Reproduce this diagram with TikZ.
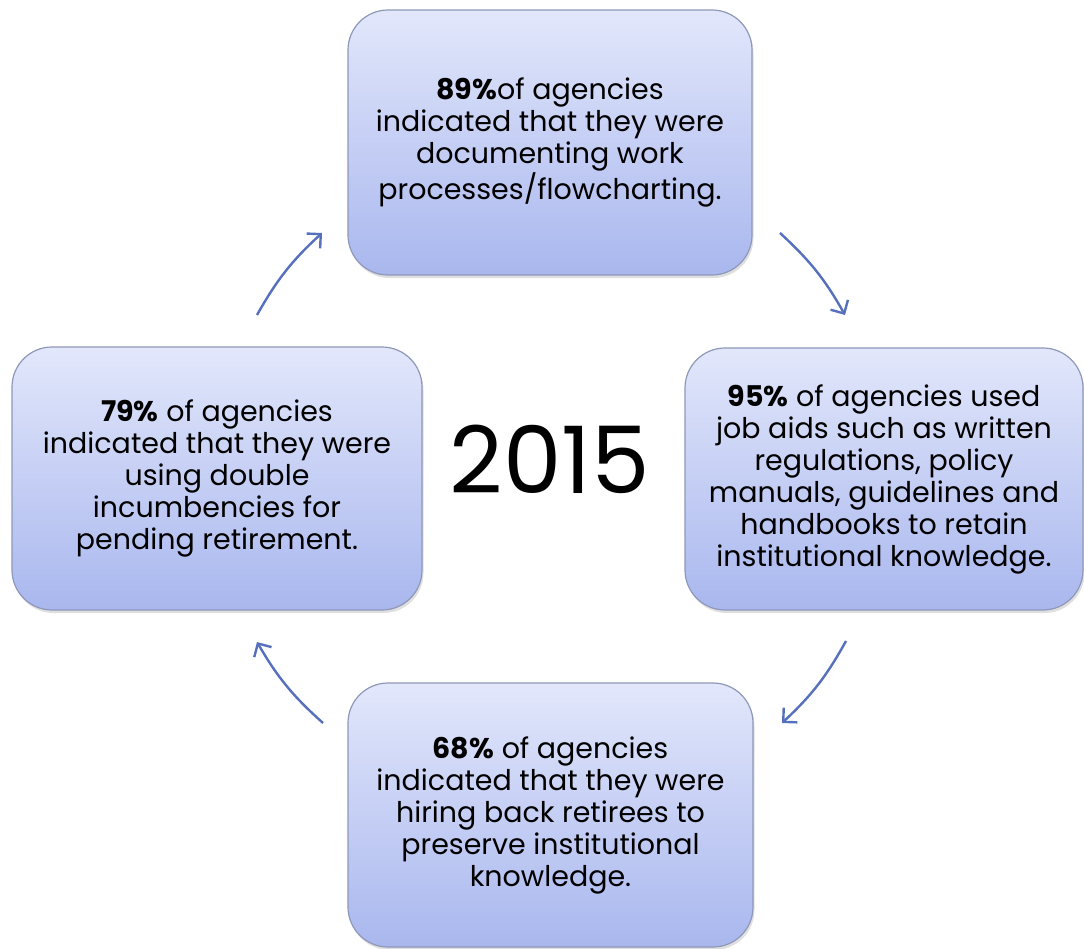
\documentclass[tikz,border=0pt]{standalone}
\usepackage{fontspec}
\setmainfont{Poppins}
\usetikzlibrary{arrows.meta,shadows}
\definecolor{boxtop}{HTML}{E2E7FB}
\definecolor{boxbot}{HTML}{A9B7EE}
\definecolor{boxline}{HTML}{8E98B8}
\definecolor{arrowc}{HTML}{5670BD}
\tikzset{
  card/.style={rectangle, rounded corners=40pt, draw=boxline, line width=1.2pt,
    top color=boxtop, bottom color=boxbot, align=center, inner sep=0pt,
    font=\fontsize{28.5}{32}\selectfont,
    drop shadow={opacity=0.25, shadow xshift=1.5pt, shadow yshift=-3pt}},
  cyc/.style={draw=arrowc, line width=2.4pt, -{Straight Barb[length=10pt,width=20pt]}}
}
\begin{document}
\begin{tikzpicture}[x=1pt,y=-1pt]
\useasboundingbox (0,0) rectangle (1084,948);
\node[card, minimum width=404pt, minimum height=265pt] (top) at (550,142.5)
  {\textbf{89\%}of agencies\\indicated that they were\\documenting work\\processes/flowcharting.};
\node[card, minimum width=398pt, minimum height=262pt] (right) at (884,479)
  {\textbf{95\%} of agencies used\\job aids such as written\\regulations, policy\\manuals, guidelines and\\handbooks to retain\\institutional knowledge.};
\node[card, minimum width=410pt, minimum height=263pt] (left) at (217,478.5)
  {\textbf{79\%} of agencies\\indicated that they were\\using double\\incumbencies for\\pending retirement.};
\node[card, minimum width=405pt, minimum height=264pt] (bottom) at (550.5,815)
  {\textbf{68\%} of agencies\\indicated that they were\\hiring back retirees to\\preserve institutional\\knowledge.};
\node[font=\fontsize{93}{100}\selectfont] (year) at (550,459) {2015};
\coordinate (a1s) at (257,315); \coordinate (a1e) at (322,233);
\coordinate (a2s) at (780,233); \coordinate (a2e) at (845,315);
\coordinate (a3s) at (846,641); \coordinate (a3e) at (782,723);
\coordinate (a4s) at (323,723); \coordinate (a4e) at (257,642);
\draw[cyc] (a1s) to[bend left=9] (a1e);
\draw[cyc] (a2s) to[bend left=9] (a2e);
\draw[cyc] (a3s) to[bend left=9] (a3e);
\draw[cyc] (a4s) to[bend left=9] (a4e);
\end{tikzpicture}
\end{document}
